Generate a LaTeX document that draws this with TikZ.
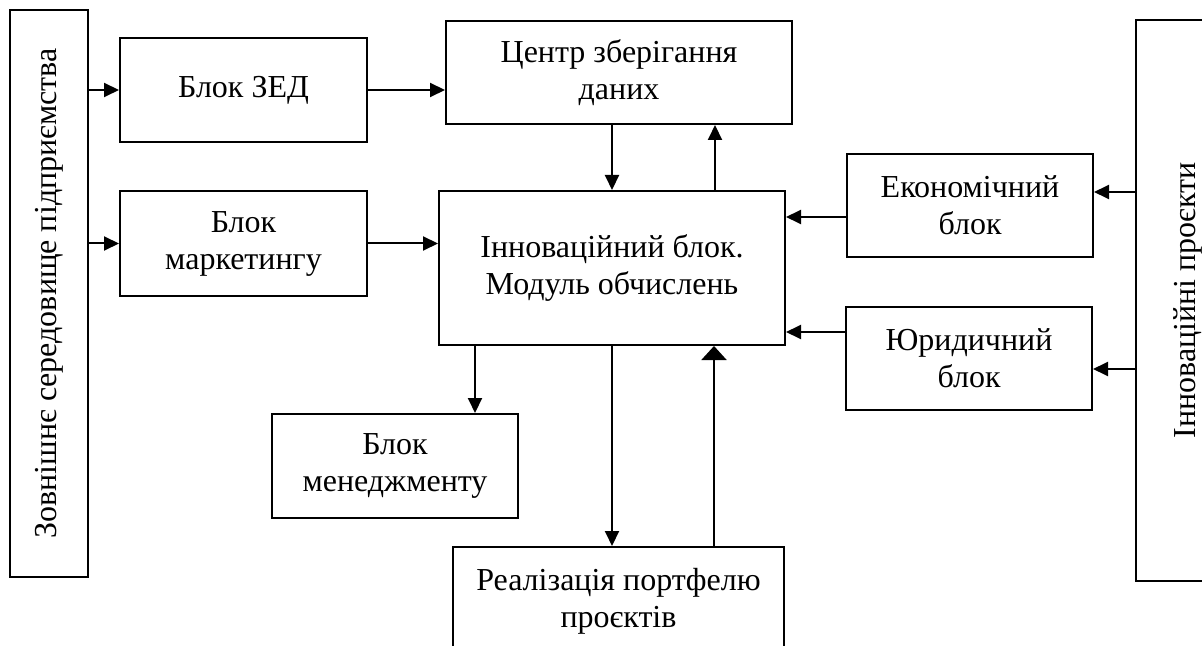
\documentclass[tikz,border=0pt]{standalone}
\usepackage{fontspec}
\setmainfont{Liberation Serif}
\usetikzlibrary{positioning,calc,arrows.meta}

\begin{document}
\begin{tikzpicture}[x=0.5pt, y=-0.5pt, line width=1pt,
		blok/.style={draw, align=center, inner sep=0pt, font=\fontsize{16}{18.5}\selectfont},
		strl/.style={-{Triangle[length=7.5pt,width=7pt]}},
		strlw/.style={-{Triangle[length=7pt,width=12.5pt]}}]
				\clip (0,0) rectangle (1202,646);
				\node[blok, rotate=90, minimum width=283.5pt, minimum height=39pt] (env) at (49,293.5) {Зовнішнє середовище підприємства};
				\node[blok, minimum width=123.5pt, minimum height=52pt] (zed) at (243.5,90) {Блок ЗЕД};
				\node[blok, minimum width=123.5pt, minimum height=52.5pt] (mark) at (243.5,243.5) {Блок\\маркетингу};
				\node[blok, minimum width=173pt, minimum height=51.5pt] (centr) at (619,72.5) {Центр зберігання\\даних};
				\node[blok, minimum width=173pt, minimum height=77pt] (innov) at (612,268) {Інноваційний блок.\\Модуль обчислень};
				\node[blok, minimum width=123pt, minimum height=51.5pt] (econ) at (970,205.5) {Економічний\\блок};
				\node[blok, minimum width=123pt, minimum height=51.5pt] (jur) at (969,358.5) {Юридичний\\блок};
				\node[blok, rotate=90, minimum width=280.5pt, minimum height=52pt] (proj) at (1188,300.5) {Інноваційні проєкти};
				\node[blok, minimum width=123pt, minimum height=52pt] (menej) at (395,466) {Блок\\менеджменту};
				\node[blok, anchor=north, minimum width=165.5pt, inner ysep=10.5pt] (real) at (618.5,546) {Реалізація портфелю\\проєктів};
				\coordinate (ctrup) at ($(innov.north)+(103,0)$);
				\coordinate (ekin) at ($(econ.east)+(0,-13.5)$);
				\coordinate (ekout) at ($(econ.west)+(0,11.5)$);
				\coordinate (juin) at ($(jur.east)+(0,10.5)$);
				\coordinate (juout) at ($(jur.west)+(0,-26.5)$);
				\coordinate (mnin) at ($(menej.north)+(80,0)$);
				\coordinate (rlout) at ($(real.north)+(95.5,0)$);
				\draw[strl] (env.south |- zed.west) -- (zed.west);
				\draw[strl] (env.south |- mark.west) -- (mark.west);
				\draw[strl] (zed.east) -- (zed.east -| centr.west);
				\draw[strl] (mark.east) -- (mark.east -| innov.west);
				\draw[strl] (centr.south -| innov.north) -- (innov.north);
				\draw[strl] (ctrup) -- (ctrup |- centr.south);
				\draw[strl] (proj.north |- ekin) -- (ekin);
				\draw[strl] (ekout) -- (ekout -| innov.east);
				\draw[strl] (proj.north |- juin) -- (juin);
				\draw[strl] (juout) -- (juout -| innov.east);
				\draw[strl] (innov.south -| mnin) -- (mnin);
				\draw[strl] (innov.south) -- (innov.south |- real.north);
				\draw[strlw] (rlout) -- (rlout |- innov.south);
			\end{tikzpicture}
\end{document}
